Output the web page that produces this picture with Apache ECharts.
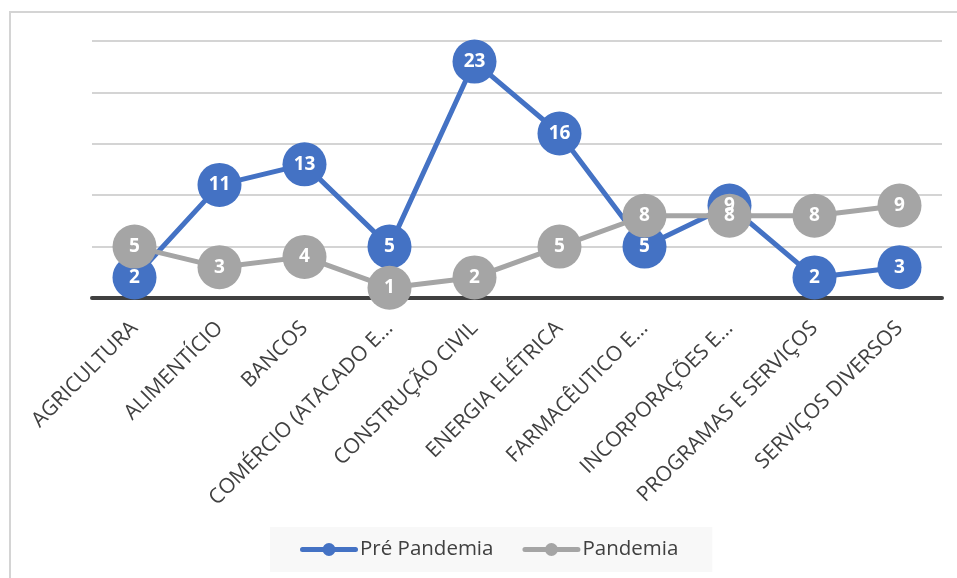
<!DOCTYPE html>
<html>
<head>
<meta charset="utf-8">
<script src="https://cdn.jsdelivr.net/npm/echarts@6/dist/echarts.min.js"></script>
<style>
  html, body { margin: 0; padding: 0; background: #fff; overflow: hidden; }
  #frame { position: absolute; left: 9px; top: 11px; width: 1000px; height: 1000px; border: 2px solid #d4d4d4; }
  #chart { position: absolute; left: 0; top: 0; width: 957px; height: 578px; }
</style>
</head>
<body>
<div id="frame"></div>
<div id="chart"></div>
<script>
const categories = [
  'AGRICULTURA',
  'ALIMENTÍCIO',
  'BANCOS',
  'COMÉRCIO (ATACADO E…',
  'CONSTRUÇÃO CIVIL',
  'ENERGIA ELÉTRICA',
  'FARMACÊUTICO E…',
  'INCORPORAÇÕES E…',
  'PROGRAMAS E SERVIÇOS',
  'SERVIÇOS DIVERSOS'
];
const prePandemia = [2, 11, 13, 5, 23, 16, 5, 9, 2, 3];
const pandemia = [5, 3, 4, 1, 2, 5, 8, 8, 8, 9];

// legend icon: thick rounded line with a dot in the middle
const legendIcon = 'path://M2.5,4.5 H55.5 A2.5,2.5 0 0 1 55.5,9.5 H2.5 A2.5,2.5 0 0 1 2.5,4.5 Z ' +
  'M29,0.5 A6.5,6.5 0 1 1 29,13.5 A6.5,6.5 0 1 1 29,0.5 Z';

const chart = echarts.init(document.getElementById('chart'));

function lineSeries(name, data, color) {
  return {
    name: name,
    type: 'line',
    data: data,
    symbol: 'circle',
    symbolSize: 44,
    lineStyle: { color: color, width: 5 },
    itemStyle: { color: color },
    label: {
      show: true,
      position: 'inside',
      color: '#fff',
      fontFamily: 'Open Sans',
      fontWeight: 'bold',
      fontSize: 19
    },
    emphasis: { disabled: true }
  };
}

chart.setOption({
  animation: false,
  grid: { left: 92, right: 15, top: 41, bottom: 280 },
  legend: {
    bottom: 6,
    left: 270,
    backgroundColor: '#f8f8f8',
    padding: [12, 34, 12, 30],
    itemWidth: 58,
    itemHeight: 14,
    itemGap: 29,
    icon: legendIcon,
    textStyle: { fontFamily: 'Open Sans', fontSize: 20.5, color: '#404040', padding: [0, 0, 0, -3] },
    data: ['Pré Pandemia', 'Pandemia']
  },
  xAxis: {
    type: 'category',
    data: categories,
    axisLine: { lineStyle: { color: '#404040', width: 4 } },
    axisTick: { show: false },
    axisLabel: {
      interval: 0,
      rotate: 45,
      margin: 27,
      fontFamily: 'Open Sans',
      fontSize: 21,
      color: '#404040'
    }
  },
  yAxis: {
    type: 'value',
    min: 0,
    max: 25,
    interval: 5,
    axisLabel: { show: false },
    axisLine: { show: false },
    axisTick: { show: false },
    splitLine: { lineStyle: { color: '#d4d4d4', width: 2 } }
  },
  series: [
    lineSeries('Pré Pandemia', prePandemia, '#4472c4'),
    lineSeries('Pandemia', pandemia, '#a5a5a5')
  ]
});
</script>
</body>
</html>
